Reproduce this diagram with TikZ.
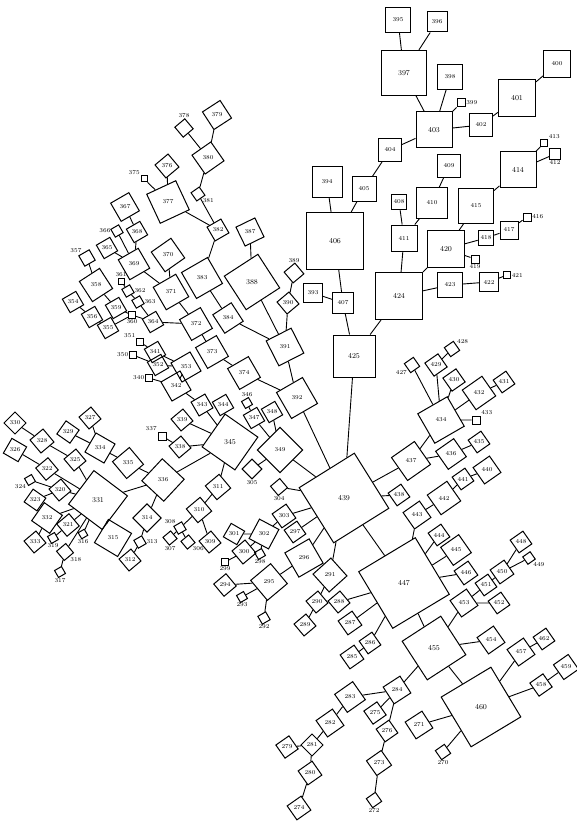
\documentclass[tikz,border=0pt]{standalone}
\usetikzlibrary{shapes.geometric}
\newcommand\lblf{\fontsize{6}{6.5}\selectfont}
\newcommand\bigf{\fontsize{7.5}{8}\selectfont}
\tikzset{
  bx/.style={draw, line width=1pt, regular polygon, regular polygon sides=4,
    minimum size={1.4142*#1}, inner sep=0pt, font=\lblf},
  sr/.style={shape border rotate=#1},
  ln/.style={line width=0.9pt},
  every label/.style={font=\lblf, inner sep=0.6pt},
}
\begin{document}
\begin{tikzpicture}[x=1pt,y=-1pt]
\fill[white] (0,0) rectangle (576,821);
\useasboundingbox (0,0) rectangle (576,821);
% boxes with the number inside
\foreach \n/\x/\y/\s/\r in {
395/398/20/25/0, 396/437/22/20/0, 398/450/77/25/0, 402/481/125/23/0,
400/557/64/27/0, 404/390/150/23/0, 409/449/166/23/0, 410/432/203/31/0,
415/476/206/35/0, 408/399/202/14/0, 411/404/238/26/0, 418/486/238/12/0,
417/509/230/18/0, 423/450/285/25/0, 422/489/282/19/0, 394/327/182/30/0,
405/364/189/24/0, 393/313/293/19/0, 407/343/303/21/0,
379/217/115/21/33, 380/208/158/23/35, 376/167/166/17/40, 377/168/202/32/25,
367/125/207/21/30, 382/218/230/16/30, 368/137/232/15/30, 365/107/248/13/30,
369/134/264/23/30, 370/168/255/24/35, 358/96/285/24/33, 371/171/292/26/30,
383/202/278/30/30, 387/250/232/21/26, 390/288/303/14/40,
384/228/318/22/33, 391/285/347/28/27, 354/73/302/13/30, 359/116/308/13/30,
356/92/317/11/30, 355/108/328/12/30, 364/153/322/15/30, 372/196/324/24/30,
373/212/352/24/30, 374/244/373/24/30, 392/297/398/30/30, 341/155/352/12/30,
352/158/365/12/30, 353/186/367/22/30, 342/176/386/22/30, 343/202/405/16/30,
344/223/405/15/30, 347/254/418/13/30, 348/272/412/12/30,
349/280/450/32/45, 339/182/420/13/40, 338/180/447/14/40, 336/163/480/30/-43,
335/128/463/22/40, 334/100/448/22/-30, 327/90/418/13/40, 329/68/432/16/-35,
330/15/423/13/45, 328/42/441/17/40, 326/15/450/17/-30, 325/75/460/15/40,
322/47/469/16/40, 320/60/490/15/40, 323/35/500/15/-35,
332/47/518/22/-35, 321/68/525/16/40, 333/35/542/13/40, 315/113/538/27/-31,
314/147/518/20/45, 312/130/560/14/40, 311/218/487/18/40, 310/199/510/18/40,
309/210/542/15/40, 303/284/516/17/35, 301/234/534/13/-30,
302/264/534/22/-28, 297/295/532/14/35, 300/244/552/17/40, 296/304/558/28/30,
294/225/585/16/40, 295/269/582/26/40, 291/330/575/24/42, 290/317/602/14/40,
288/339/602/14/40, 289/305/625/15/40, 287/350/623/17/35, 286/370/643/14/35,
285/352/657/17/35, 434/441/420/34/30, 429/436/365/16/35,
430/454/380/16/35, 432/479/393/24/35, 431/504/382/11/35, 437/411/461/28/35,
436/451/454/22/35, 435/479/442/14/35, 440/487/470/20/35, 441/463/479/15/35,
442/444/498/24/35, 438/399/495/15/35, 443/417/515/20/35, 444/439/535/15/35,
445/456/550/22/35, 446/466/573/17/35, 448/521/542/14/35, 450/502/572/17/35,
451/486/585/14/35, 453/464/603/20/35, 452/499/603/13/35,
454/491/640/20/35, 457/521/652/20/35, 462/544/639/12/35, 458/541/685/16/35,
459/566/667/18/35, 284/397/690/20/33, 271/419/725/20/33,
283/350/697/22/35, 282/330/723/20/35, 281/312/745/11/45, 279/287/747/16/35,
280/310/773/17/35, 274/299/808/17/35, 275/375/713/16/35, 276/387/731/12/35,
273/379/763/18/35}
  \node[bx=\s, sr=\r] (n\n) at (\x,\y) {\n};
% large boxes
\foreach \n/\x/\y/\s/\r in {
397/404/73/45/0, 403/434/130/36/0, 401/517/98/37/0, 414/518/170/36/0,
420/446/249/37/0, 406/335/241/57/0, 424/399/296/47/0, 425/354/356/42/0,
388/252/282/40/33, 345/230/442/40/-35, 331/98/500/42/-37,
439/344/498/65/32, 447/404/583/66/31, 455/434/648/46/33, 460/481/707/58/31}
  \node[bx=\s, sr=\r, font=\bigf] (n\n) at (\x,\y) {\n};
% small boxes with the number beside
\foreach \n/\x/\y/\s/\r/\p in {
399/461/103/8/0/right, 413/544/143/7/0/above right, 412/555/154/11/0/below,
416/527/217/8/0/right, 419/475/259/8/0/below, 421/507/275/7/0/right,
378/184/128/13/40/above, 381/198/194/10/35/below right, 375/144/179/6/0/above left,
366/117/231/9/30/left, 357/87/258/12/30/above left, 361/121/281/6/0/above,
362/128/291/9/30/right, 363/138/302/9/30/right, 389/294/273/14/40/above,
360/132/315/7/0/below, 351/140/342/7/0/above left, 350/133/355/7/0/left,
340/149/378/7/0/left, 346/247/403/8/30/above, 337/162/436/8/0/above left,
324/30/480/8/30/below left, 319/53/538/8/30/below, 316/83/534/7/30/below,
318/65/552/12/40/below right, 317/60/572/8/30/below, 313/140/542/9/30/right,
308/180/528/9/30/above left, 307/170/538/10/40/below, 306/188/542/10/40/below right,
305/252/469/14/45/below, 304/279/487/12/40/below, 298/260/554/8/30/below,
299/225/562/7/0/below, 293/242/597/8/30/below, 292/264/618/9/30/below,
427/412/365/11/35/below left, 428/452/349/11/35/above right,
433/476/420/8/0/above right, 449/529/558/9/35/below right,
270/443/752/11/35/below, 272/374/800/11/35/below}
  \node[bx=\s, sr=\r, label=\p:\n] (n\n) at (\x,\y) {};
% connectors
\foreach \a/\b in {
395/397, 396/397, 397/403, 398/403, 399/403, 403/402, 402/401, 401/400,
403/404, 404/405, 405/406, 394/406, 406/407, 393/407, 407/425, 424/425,
409/410, 410/411, 408/411, 411/424, 420/424, 415/420, 414/415, 413/414,
412/414, 420/418, 418/417, 417/416, 419/420, 423/424, 422/423, 421/422,
425/439,
378/380, 379/380, 380/381, 381/382, 377/382, 376/377, 375/377, 367/368,
368/369, 366/369, 365/369, 369/371, 370/371, 371/372, 357/358, 358/359,
359/360, 360/364, 361/362, 362/363, 363/364, 354/356, 356/355, 355/360,
364/372, 372/373, 373/374, 374/392, 382/383, 383/384, 384/391, 387/388,
388/391, 389/390, 390/391, 391/392, 392/439,
351/341, 341/353, 350/352, 352/353, 353/342, 340/342, 342/343, 343/345,
344/345, 346/347, 347/349, 348/349, 339/345, 337/338, 338/345, 336/345,
349/439, 305/349, 345/311, 311/310, 310/309, 310/308, 307/308, 306/308,
330/328, 328/325, 325/331, 329/334, 327/334, 334/335, 335/336, 336/331,
326/322, 322/331, 324/320, 323/320, 320/331, 332/331, 333/332, 321/331,
319/321, 318/331, 317/318, 316/331, 315/331, 314/336, 313/314, 312/313,
304/439, 303/439, 302/303, 301/302, 297/439, 300/302, 298/302, 299/300,
296/439, 295/296, 294/295, 293/295, 292/295, 291/439, 290/291, 289/290,
288/447, 287/447, 286/447, 285/286, 439/447,
427/434, 429/434, 428/429, 430/434, 432/434, 431/432, 433/434, 434/437,
436/437, 435/436, 437/439, 438/439, 440/441, 441/442, 442/443, 443/447,
444/447, 445/447, 446/447, 448/450, 449/450, 450/451, 451/453, 452/453,
453/455,
447/455, 455/460, 454/455, 457/460, 462/457, 458/460, 459/458, 284/455,
271/460, 270/460, 283/284, 282/283, 281/282, 279/281, 280/281, 274/280,
275/284, 276/284, 273/276, 272/273}
  \draw[ln] (n\a) -- (n\b);
\end{tikzpicture}
\end{document}
